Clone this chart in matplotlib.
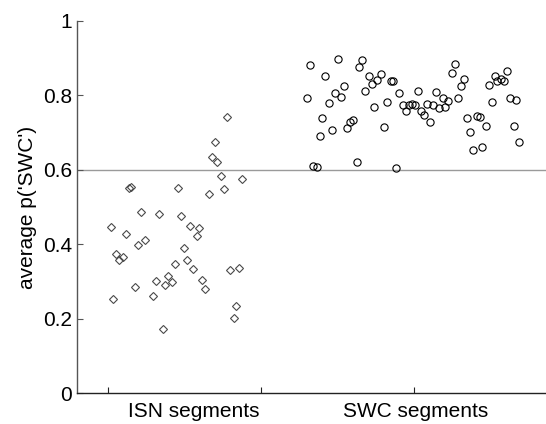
import matplotlib
matplotlib.use("Agg")
import matplotlib.pyplot as plt
from matplotlib.ticker import FixedLocator

plt.rcParams['font.family'] = ['Liberation Sans', 'DejaVu Sans']

# ISN segments (diamonds): jittered x position and average p('SWC')
isn_x = [1.3895, 1.3503, 1.3395, 1.3568, 1.3699, 1.4394, 1.3787, 1.3297, 1.0705, 1.0751,
         1.2285, 1.1087, 1.1685, 1.2403, 1.0098, 1.0597, 1.2687, 1.2981, 1.2906, 1.1208,
         1.0989, 1.2481, 1.0271, 1.0500, 1.0379, 1.2579, 1.2197, 1.2795, 1.4003, 1.4296,
         1.1978, 1.1587, 1.2089, 1.1871, 1.3088, 1.0891, 1.3186, 1.1479, 1.0163, 1.4189,
         1.4114, 1.1805]
isn_y = [0.741, 0.674, 0.634, 0.621, 0.583, 0.575, 0.548, 0.536, 0.551, 0.553,
         0.551, 0.487, 0.481, 0.475, 0.446, 0.428, 0.449, 0.443, 0.422, 0.411,
         0.399, 0.391, 0.373, 0.365, 0.357, 0.358, 0.346, 0.335, 0.332, 0.337,
         0.315, 0.302, 0.299, 0.291, 0.305, 0.285, 0.279, 0.262, 0.252, 0.235,
         0.203, 0.173]

# SWC segments (circles)
swc_x = [1.6497, 1.6605, 1.6712, 1.6823, 1.6921, 1.6987, 1.7094, 1.7215, 1.7313, 1.7421,
         1.7529, 1.7607, 1.7705, 1.7813, 1.7920, 1.8018, 1.8129, 1.8195, 1.8302, 1.8410,
         1.8521, 1.8629, 1.8704, 1.8802, 1.8913, 1.9021, 1.9128, 1.9239, 1.9314, 1.9412,
         1.9520, 1.9631, 1.9729, 1.9847, 1.9925, 2.0023, 2.0121, 2.0229, 2.0336, 2.0434,
         2.0513, 2.0620, 2.0728, 2.0826, 2.0937, 2.1012, 2.1120, 2.1231, 2.1339, 2.1446,
         2.1544, 2.1623, 2.1721, 2.1828, 2.1936, 2.2047, 2.2145, 2.2220, 2.2341, 2.2439,
         2.2547, 2.2645, 2.2720, 2.2831, 2.2938, 2.3046, 2.3144, 2.3255, 2.3320, 2.3428]
swc_y = [0.7936, 0.8821, 0.6102, 0.6067, 0.6915, 0.7391, 0.8526, 0.7801, 0.7069, 0.8062,
         0.8966, 0.7962, 0.8258, 0.7122, 0.7275, 0.7337, 0.6217, 0.8760, 0.8940, 0.8115,
         0.8526, 0.8295, 0.7678, 0.8411, 0.8564, 0.7157, 0.7828, 0.8384, 0.8376, 0.6048,
         0.8062, 0.7732, 0.7587, 0.7740, 0.7775, 0.7732, 0.8115, 0.7587, 0.7463, 0.7767,
         0.7275, 0.7732, 0.8089, 0.7651, 0.7919, 0.7678, 0.7855, 0.8591, 0.8848, 0.7936,
         0.8258, 0.8438, 0.7383, 0.7007, 0.6540, 0.7444, 0.7418, 0.6620, 0.7176, 0.8285,
         0.7828, 0.8526, 0.8384, 0.8438, 0.8384, 0.8644, 0.7919, 0.7176, 0.7882, 0.6746]

threshold = 0.6
group_ticks = [1, 1.5, 2]
group_label_pos = [1.28, 2.0065]
group_labels = ['ISN segments', 'SWC segments']
y_ticks = [0, 0.2, 0.4, 0.6, 0.8, 1]
y_tick_labels = ['0', '0.2', '0.4', '0.6', '0.8', '1']

fig = plt.figure(figsize=(5.46, 4.24), dpi=100)
ax = fig.add_axes([0.1416, 0.0724, 0.8584, 0.8785])

ax.axhline(threshold, color='#9a9a9a', lw=1.0, zorder=1)
ax.plot(isn_x, isn_y, linestyle='none', marker='D', markersize=4.0,
        markerfacecolor='none', markeredgecolor='#4a4a4a', markeredgewidth=0.8, zorder=3)
ax.plot(swc_x, swc_y, linestyle='none', marker='o', markersize=5.2,
        markerfacecolor='none', markeredgecolor='black', markeredgewidth=0.8, zorder=3)

ax.set_xlim(0.9008, 2.431)
ax.set_ylim(0, 1)

for s in ['top', 'right']:
    ax.spines[s].set_visible(False)
ax.spines['left'].set_color('#555555')
ax.spines['bottom'].set_color('#222222')
ax.spines['left'].set_linewidth(1.0)
ax.spines['bottom'].set_linewidth(1.0)

ax.set_yticks(y_ticks)
ax.set_yticklabels(y_tick_labels)
ax.tick_params(axis='y', direction='in', length=4, width=0.8, color='#555555',
               labelsize=15, pad=4)

ax.xaxis.set_major_locator(FixedLocator(group_ticks))
ax.xaxis.set_minor_locator(FixedLocator(group_label_pos))
ax.set_xticklabels([], minor=False)
ax.set_xticklabels(group_labels, minor=True)
ax.tick_params(axis='x', which='major', direction='in', length=4, width=0.8, color='#222222')
ax.tick_params(axis='x', which='minor', length=0, labelsize=15, pad=6)

ax.set_ylabel("average p('SWC')", fontsize=15, labelpad=4)

fig.savefig('out.png', dpi=100)
